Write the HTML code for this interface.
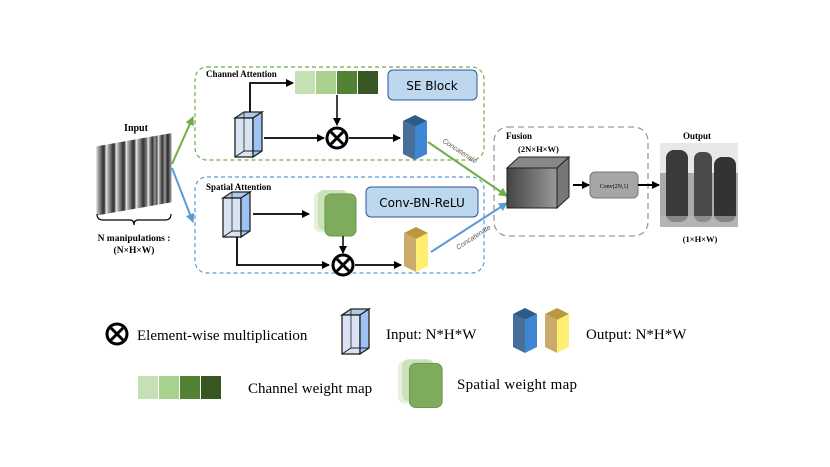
<!DOCTYPE html>
<html><head><meta charset="utf-8"><style>
html,body{margin:0;padding:0;background:#fff}
svg{display:block}
text{font-family:"Liberation Serif",serif}
.b{font-weight:bold}
</style></head><body>
<svg width="830" height="467" viewBox="0 0 830 467" xmlns="http://www.w3.org/2000/svg">
<defs>
<marker id="ak" markerWidth="8" markerHeight="8" refX="7" refY="4" orient="auto" markerUnits="userSpaceOnUse"><path d="M0,0 L8,4 L0,8 z" fill="#000"/></marker>
<marker id="ag" markerWidth="9" markerHeight="9" refX="8" refY="4.5" orient="auto" markerUnits="userSpaceOnUse"><path d="M0,0 L9,4.5 L0,9 z" fill="#70ad47"/></marker>
<marker id="ab" markerWidth="9" markerHeight="9" refX="8" refY="4.5" orient="auto" markerUnits="userSpaceOnUse"><path d="M0,0 L9,4.5 L0,9 z" fill="#5b9bd5"/></marker>
<linearGradient id="img" x1="0" x2="1"><stop offset="0" stop-color="#ddd"/><stop offset=".3" stop-color="#333"/><stop offset=".5" stop-color="#999"/><stop offset=".7" stop-color="#222"/><stop offset="1" stop-color="#bbb"/></linearGradient>
<linearGradient id="cube" x1="0" x2="1"><stop offset="0" stop-color="#444"/><stop offset="1" stop-color="#999"/></linearGradient>
<g id="inp">
<polygon points="0,6 9,0 27,0 18,6" fill="#b4c7e7" stroke="#222" stroke-width="1.3"/>
<rect x="0" y="6" width="18" height="39" fill="#dae3f3" stroke="#222" stroke-width="1.3"/>
<polygon points="18,6 27,0 27,39 18,45" fill="#9dc3f5" stroke="#222" stroke-width="1.3"/>
<polyline points="0,45 9,39 27,39" fill="none" stroke="#222" stroke-width="1"/>
<line x1="9" y1="0" x2="9" y2="39" stroke="#222" stroke-width=".8"/>
</g>
<g id="ob">
<polygon points="0,6 12,0 24,6 12,12" fill="#2e5b8c"/>
<polygon points="0,6 12,12 12,45 0,39" fill="#476f9a"/>
<polygon points="12,12 24,6 24,39 12,45" fill="#3d87d3"/>
</g>
<g id="oy">
<polygon points="0,6 12,0 24,6 12,12" fill="#b8993f"/>
<polygon points="0,6 12,12 12,45 0,39" fill="#c9ac6b"/>
<polygon points="12,12 24,6 24,39 12,45" fill="#ffee70"/>
</g>
<g id="otimes">
<circle cx="0" cy="0" r="10" fill="#fff" stroke="#000" stroke-width="3"/>
<line x1="-6" y1="-6" x2="6" y2="6" stroke="#000" stroke-width="3"/>
<line x1="-6" y1="6" x2="6" y2="-6" stroke="#000" stroke-width="3"/>
</g>
<g id="wm">
<rect x="0" y="0" width="20" height="23" fill="#c5e0b4"/>
<rect x="21" y="0" width="20" height="23" fill="#a9d18e"/>
<rect x="42" y="0" width="20" height="23" fill="#548235"/>
<rect x="63" y="0" width="20" height="23" fill="#385723"/>
</g>
<g id="sm">
<rect x="0" y="6" width="30" height="40" rx="6" fill="#e2f0d9" opacity=".9"/>
<rect x="4" y="4" width="30" height="40" rx="6" fill="#c5e0b4" opacity=".9"/>
<rect x="11" y="8" width="31" height="42" rx="6" fill="#7eab5c" stroke="#6a9a4b"/>
</g>
</defs>

<!-- input stack -->
<g>
<g transform="translate(96,146) skewY(-10)">
<rect x="0" y="0" width="24" height="70" fill="url(#img)" stroke="#fff" stroke-width=".8"/>
<rect x="10" y="0" width="24" height="70" fill="url(#img)" stroke="#fff" stroke-width=".8"/>
<rect x="20" y="0" width="24" height="70" fill="url(#img)" stroke="#fff" stroke-width=".8"/>
<rect x="30" y="0" width="24" height="70" fill="url(#img)" stroke="#fff" stroke-width=".8"/>
<rect x="40" y="0" width="24" height="70" fill="url(#img)" stroke="#fff" stroke-width=".8"/>
<rect x="52" y="0" width="14" height="70" fill="url(#img)" stroke="#fff" stroke-width=".8"/>
<rect x="62" y="0" width="14" height="70" fill="url(#img)" stroke="#fff" stroke-width=".8"/>
</g>
<text x="136" y="131" font-size="10" class="b" text-anchor="middle">Input</text>
<path d="M97,214 Q97,220 103,220 L130,220 Q134,220 134,225 Q134,220 138,220 L165,220 Q171,220 171,214" fill="none" stroke="#000" stroke-width="1.2"/>
<text x="134" y="241" font-size="9.5" class="b" text-anchor="middle">N manipulations :</text>
<text x="134" y="253" font-size="9.5" class="b" text-anchor="middle">(N×H×W)</text>
</g>
<line x1="172" y1="164" x2="193" y2="117" stroke="#70ad47" stroke-width="2" marker-end="url(#ag)"/>
<line x1="172" y1="168" x2="193" y2="222" stroke="#5b9bd5" stroke-width="2" marker-end="url(#ab)"/>

<!-- channel -->
<rect x="195" y="67" width="289" height="93" rx="12" fill="none" stroke="#70ad47" stroke-width="1.2" stroke-dasharray="4,3"/>
<text x="206" y="77" font-size="9" class="b">Channel  Attention</text>
<use href="#wm" x="295" y="71"/>
<rect x="388" y="70" width="89" height="30" rx="5" fill="#bdd7ee" stroke="#2f5597"/>
<text x="432" y="90" font-size="12" text-anchor="middle" style="font-family:'DejaVu Sans',sans-serif">SE Block</text>
<use href="#inp" x="235" y="112"/>
<polyline points="250,112 250,83 293,83" fill="none" stroke="#000" stroke-width="1.8" marker-end="url(#ak)"/>
<line x1="337" y1="95" x2="337" y2="125" stroke="#000" stroke-width="1.5" marker-end="url(#ak)"/>
<line x1="264" y1="138" x2="324" y2="138" stroke="#000" stroke-width="1.8" marker-end="url(#ak)"/>
<use href="#otimes" x="337" y="138"/>
<line x1="349" y1="138" x2="400" y2="138" stroke="#000" stroke-width="1.8" marker-end="url(#ak)"/>
<use href="#ob" x="403" y="115"/>
<line x1="428" y1="142" x2="507" y2="196" stroke="#70ad47" stroke-width="2" marker-end="url(#ag)"/>
<text x="0" y="0" font-size="7" font-style="italic" fill="#555" transform="translate(442,142) rotate(33)" style="font-family:'Liberation Sans',sans-serif">Concatenate</text>

<!-- spatial -->
<rect x="195" y="177" width="289" height="96" rx="12" fill="none" stroke="#5b9bd5" stroke-width="1.2" stroke-dasharray="4,3"/>
<text x="206" y="190" font-size="9" class="b">Spatial  Attention</text>
<use href="#inp" x="223" y="192"/>
<line x1="253" y1="214" x2="309" y2="214" stroke="#000" stroke-width="1.8" marker-end="url(#ak)"/>
<use href="#sm" x="314" y="186"/>
<rect x="366" y="187" width="112" height="30" rx="5" fill="#bdd7ee" stroke="#2f5597"/>
<text x="422" y="207" font-size="12" text-anchor="middle" style="font-family:'DejaVu Sans',sans-serif">Conv-BN-ReLU</text>
<line x1="343" y1="236" x2="343" y2="253" stroke="#000" stroke-width="1.5" marker-end="url(#ak)"/>
<polyline points="237,237 237,265 329,265" fill="none" stroke="#000" stroke-width="1.8" marker-end="url(#ak)"/>
<use href="#otimes" x="343" y="265"/>
<line x1="355" y1="265" x2="401" y2="265" stroke="#000" stroke-width="1.8" marker-end="url(#ak)"/>
<use href="#oy" x="404" y="227"/>
<line x1="431" y1="252" x2="507" y2="203" stroke="#5b9bd5" stroke-width="2" marker-end="url(#ab)"/>
<text x="0" y="0" font-size="7" font-style="italic" fill="#555" transform="translate(458,250) rotate(-33)" style="font-family:'Liberation Sans',sans-serif">Concatenate</text>

<!-- fusion -->
<rect x="494" y="127" width="154" height="109" rx="14" fill="none" stroke="#999" stroke-width="1.3" stroke-dasharray="6,4"/>
<text x="506" y="139" font-size="9" class="b">Fusion</text>
<text x="518" y="152" font-size="8.5" class="b">(2N×H×W)</text>
<polygon points="507,168 519,157 569,157 557,168" fill="#888" stroke="#222"/>
<rect x="507" y="168" width="50" height="40" fill="url(#cube)" stroke="#222"/>
<polygon points="557,168 569,157 569,197 557,208" fill="#777" stroke="#222"/>
<line x1="573" y1="185" x2="589" y2="185" stroke="#000" stroke-width="2" marker-end="url(#ak)"/>
<rect x="590" y="172" width="48" height="26" rx="5" fill="#a6a6a6" stroke="#777"/>
<text x="614" y="188" font-size="6" text-anchor="middle">Conv(2N,1)</text>
<line x1="638" y1="185" x2="659" y2="185" stroke="#000" stroke-width="2" marker-end="url(#ak)"/>
<!-- output image -->
<rect x="660" y="143" width="78" height="84" fill="#aaa"/>
<rect x="660" y="143" width="78" height="30" fill="#e8e8e8"/>
<rect x="666" y="150" width="22" height="72" rx="8" fill="#3a3a3a"/>
<rect x="694" y="152" width="18" height="70" rx="7" fill="#4a4a4a"/>
<rect x="714" y="157" width="22" height="65" rx="8" fill="#333"/>
<rect x="660" y="216" width="78" height="11" fill="#bbb" opacity=".6"/>
<text x="697" y="139" font-size="9" class="b" text-anchor="middle">Output</text>
<text x="700" y="242" font-size="8.5" class="b" text-anchor="middle">(1×H×W)</text>

<!-- legend -->
<use href="#otimes" x="117" y="334"/>
<text x="137" y="340" font-size="15">Element-wise multiplication</text>
<use href="#inp" x="342" y="309"/>
<text x="386" y="339" font-size="15">Input: N*H*W</text>
<use href="#ob" x="513" y="308"/>
<use href="#oy" x="545" y="308"/>
<text x="586" y="339" font-size="15">Output: N*H*W</text>
<use href="#wm" x="138" y="376"/>
<text x="248" y="393" font-size="15">Channel weight map</text>
<use href="#sm" x="0" y="0" transform="translate(398,355) scale(1.05)"/>
<text x="457" y="389" font-size="15" textLength="120">Spatial weight map</text>
</svg>
</body></html>
